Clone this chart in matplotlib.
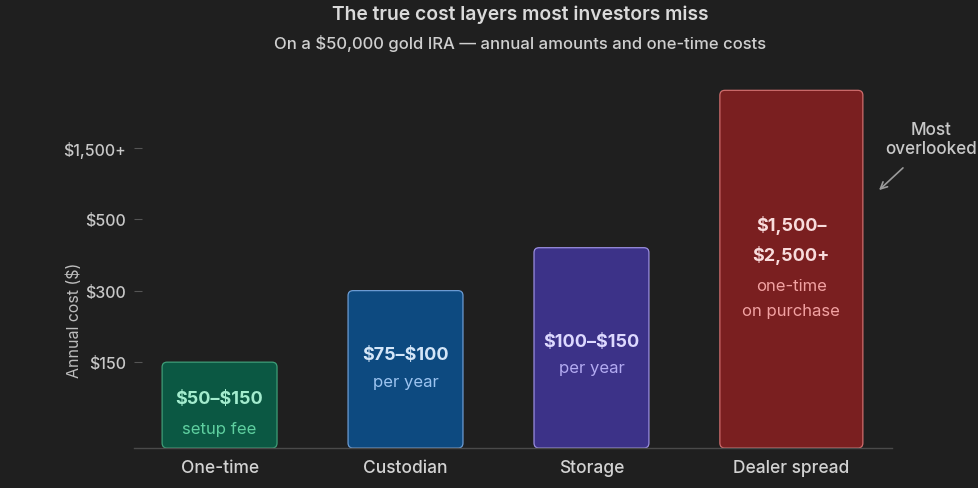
import numpy as np
import matplotlib
matplotlib.use("Agg")
import matplotlib.pyplot as plt
from matplotlib.patches import FancyBboxPatch
from matplotlib.transforms import IdentityTransform

# Data
categories = ['One-time', 'Custodian', 'Storage', 'Dealer spread']
bar_heights = [150, 300, 420, 2300]          # plotted level (upper end of cost range)
value_labels = ['$50–$150', '$75–$100', '$100–$150', '$1,500–\n$2,500+']
sub_labels = ['setup fee', 'per year', 'per year', 'one-time\non purchase']
tick_values = [150, 300, 500, 1500]
tick_labels = ['$150', '$300', '$500', '$1,500+']

# Styling
bg = '#1f1f1f'
fills = ['#0b5843', '#0d4a80', '#3c3288', '#7a1f20']
edges = ['#3d9e78', '#6b9bd2', '#9a8ee0', '#cf6c6c']
value_colors = ['#a3ecce', '#d4e6f8', '#ddd9ff', '#f8dcdc']
sub_colors = ['#5fd0a0', '#9cc4f0', '#b3abf2', '#f2a2a2']
x_pos = [0, 1, 2, 3.075]
widths = [0.618, 0.618, 0.618, 0.769]

plt.rcParams['font.family'] = ['Inter', 'DejaVu Sans']
plt.rcParams['text.parse_math'] = False

# piecewise scale so ticks are evenly spaced
brk_vals = [0, 150, 300, 500, 1500, 2500]
brk_lvls = [-1.2, 0, 1, 2, 3, 4]
fwd = lambda v: np.interp(v, brk_vals, brk_lvls)
inv = lambda l: np.interp(l, brk_lvls, brk_vals)

fig = plt.figure(figsize=(9.79, 4.89), dpi=100, facecolor=bg)
ax = fig.add_axes([0.1369, 0.0818, 0.7742, 0.7607])
ax.patch.set_visible(False)
ax.set_zorder(2)
ax.set_yscale('function', functions=(fwd, inv))
ax.set_ylim(0, 2500)
ax.set_xlim(-0.46, 3.616)

bars = ax.bar(x_pos, bar_heights, width=widths, color='none', edgecolor='none')

for s in ['top', 'right', 'left']:
    ax.spines[s].set_visible(False)
ax.spines['bottom'].set_color('#4a4a4a')
ax.spines['bottom'].set_linewidth(1.0)

ax.set_yticks(tick_values)
ax.set_yticklabels(tick_labels, fontweight='medium')
ax.yaxis.set_minor_locator(matplotlib.ticker.NullLocator())
ax.tick_params(axis='y', direction='in', length=6, width=0.8, color='#555555',
               labelcolor='#c8c8c8', labelsize=11.5, pad=6)
ax.set_xticks(x_pos)
ax.set_xticklabels(categories, fontweight='medium')
ax.tick_params(axis='x', length=0, labelcolor='#d2d2d2', labelsize=12.5, pad=8)

ax.set_ylabel('Annual cost ($)', color='#bdbdbd', fontsize=11.5)
ax.yaxis.set_label_coords(-0.069, 0.347)

fig.text(520 / 979, 1 - 15 / 489, 'The true cost layers most investors miss', ha='center', va='center',
         color='#dadada', fontsize=13.9, fontweight='semibold')
fig.text(520 / 979, 1 - 43 / 489, 'On a $50,000 gold IRA — annual amounts and one-time costs', ha='center',
         va='center', color='#cfcfcf', fontsize=12, fontweight='medium')

# rounded bars, drawn in pixel space over the bar geometry
fig.canvas.draw()
for b, fc, ec in zip(bars, fills, edges):
    bb = b.get_window_extent()
    fig.add_artist(FancyBboxPatch((bb.x0, bb.y0), bb.width, bb.height,
                                  boxstyle='round,pad=0,rounding_size=5',
                                  facecolor=fc, edgecolor=ec, linewidth=0.9,
                                  transform=IdentityTransform(), zorder=1))

# labels inside bars (offsets in pixels from bar centre, downward positive)
value_offsets = [-6.5, -15, -6, -29.5]
sub_offsets = [23.5, 12, 20, 28.5]
for b, vl, sl, vc, sc, vo, so in zip(bars, value_labels, sub_labels, value_colors, sub_colors,
                                     value_offsets, sub_offsets):
    ax.annotate(vl, xy=(0.5, 0.5), xycoords=b, xytext=(0, -vo * 0.72), textcoords='offset points',
                ha='center', va='center', color=vc, fontsize=13, fontweight='bold',
                linespacing=1.75, zorder=5)
    ax.annotate(sl, xy=(0.5, 0.5), xycoords=b, xytext=(0, -so * 0.72), textcoords='offset points',
                ha='center', va='center', color=sc, fontsize=12, linespacing=1.85, zorder=5)

# callout
fig.text(931 / 979, 1 - 140 / 489, 'Most\noverlooked', ha='center', va='center',
         color='#c8c8c8', fontsize=12.3, fontweight='medium', linespacing=1.2)
ax.annotate('', xy=(877, 489 - 193), xycoords='figure pixels',
            xytext=(905, 489 - 167), textcoords='figure pixels',
            arrowprops=dict(arrowstyle='->', color='#9a9a9a', lw=1.2, mutation_scale=12))

fig.savefig('out.png', dpi=100, facecolor=bg)
